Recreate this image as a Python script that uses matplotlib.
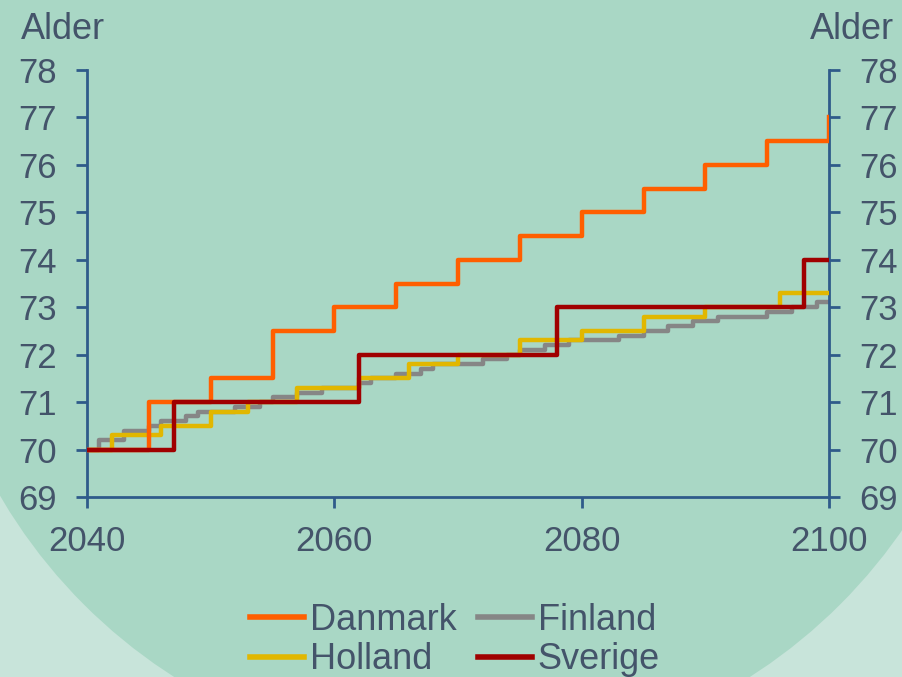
import matplotlib
matplotlib.use('Agg')
import matplotlib.pyplot as plt
from matplotlib.patches import Ellipse

plt.rcParams['font.family'] = ['Liberation Sans', 'DejaVu Sans']

# data: years where the pension age changes, and the new age (step "post")
dk_years = [2040, 2045, 2050, 2055, 2060, 2065, 2070, 2075, 2080, 2085, 2090, 2095, 2100]
dk_age = [70.0, 71.0, 71.5, 72.5, 73.0, 73.5, 74.0, 74.5, 75.0, 75.5, 76.0, 76.5, 77.0]

fi_years = [2040, 2041, 2043, 2045, 2046, 2048, 2049, 2052, 2054, 2055, 2057, 2059,
            2062, 2063, 2065, 2067, 2068, 2072, 2074, 2075, 2077, 2079, 2083, 2085,
            2087, 2089, 2091, 2095, 2097, 2099, 2100]
fi_age = [70.0, 70.2, 70.4, 70.5, 70.6, 70.7, 70.8, 70.9, 71.0, 71.1, 71.2, 71.3,
          71.4, 71.5, 71.6, 71.7, 71.8, 71.9, 72.0, 72.1, 72.2, 72.3, 72.4, 72.5,
          72.6, 72.7, 72.8, 72.9, 73.0, 73.1, 73.1]

nl_years = [2040, 2042, 2046, 2050, 2053, 2057, 2062, 2066, 2070, 2075, 2080, 2085, 2090, 2096, 2100]
nl_age = [70.0, 70.3, 70.5, 70.8, 71.0, 71.3, 71.5, 71.8, 72.0, 72.3, 72.5, 72.8, 73.0, 73.3, 73.3]

se_years = [2040, 2047, 2062, 2078, 2098, 2100]
se_age = [70.0, 71.0, 72.0, 73.0, 74.0, 74.0]

TXT = '#44546a'
AXC = '#2f5b8a'

fig = plt.figure(figsize=(9.02, 6.77), dpi=100)
fig.patch.set_facecolor('#c8e4da')

# big background circle
R = 535
circ = Ellipse((462 / 902, 1 - 226 / 677), 2 * R / 902, 2 * R / 677,
               transform=fig.transFigure, facecolor='#a9d7c5', edgecolor='none', zorder=-5)
fig.patches.append(circ)

ax = fig.add_axes([87 / 902, 1 - 497 / 677, (829 - 87) / 902, (497 - 70) / 677])
ax.set_facecolor('none')
ax.set_zorder(2)

ax.step(fi_years, fi_age, where='post', color='#868686', lw=3.2, label='Finland', zorder=2)
ax.step(nl_years, nl_age, where='post', color='#e1b700', lw=3.2, label='Holland', zorder=3)
ax.step(dk_years, dk_age, where='post', color='#ff5f00', lw=3.2, label='Danmark', zorder=4)
ax.step(se_years, se_age, where='post', color='#a00000', lw=3.2, label='Sverige', zorder=5)

ax.set_xlim(2040, 2100)
ax.set_ylim(69, 78)
ax.set_xticks([2040, 2060, 2080, 2100])
ax.set_yticks(range(69, 79))

for s in ['left', 'right', 'bottom']:
    ax.spines[s].set_color(AXC)
    ax.spines[s].set_linewidth(2)
ax.spines['top'].set_visible(False)

ax.tick_params(axis='y', which='both', left=True, right=True, labelleft=True, labelright=True,
               direction='out', length=8, width=2, color=AXC, labelcolor=TXT,
               labelsize=25, pad=14)
ax.tick_params(axis='x', direction='out', length=8, width=2, color=AXC, labelcolor=TXT,
               labelsize=25, pad=12)

fig.text(21 / 902, 1 - 39 / 677, 'Alder', ha='left', va='baseline', fontsize=26, color=TXT)
fig.text(894 / 902, 1 - 39 / 677, 'Alder', ha='right', va='baseline', fontsize=26, color=TXT)

h, l = ax.get_legend_handles_labels()
order = [2, 1, 0, 3]  # Danmark, Holland, Finland, Sverige -> 2 columns
leg = fig.legend([h[i] for i in order], [l[i] for i in order], ncol=2,
                 loc='center', bbox_to_anchor=(455 / 902, 1 - 640 / 677),
                 frameon=False, fontsize=26, handlelength=1.5, handletextpad=0.15,
                 columnspacing=0.6, labelspacing=0.12, borderpad=0)
for t in leg.get_texts():
    t.set_color(TXT)
for ln in leg.get_lines():
    ln.set_linewidth(4)

fig.savefig('out.png', dpi=100, facecolor=fig.get_facecolor())
